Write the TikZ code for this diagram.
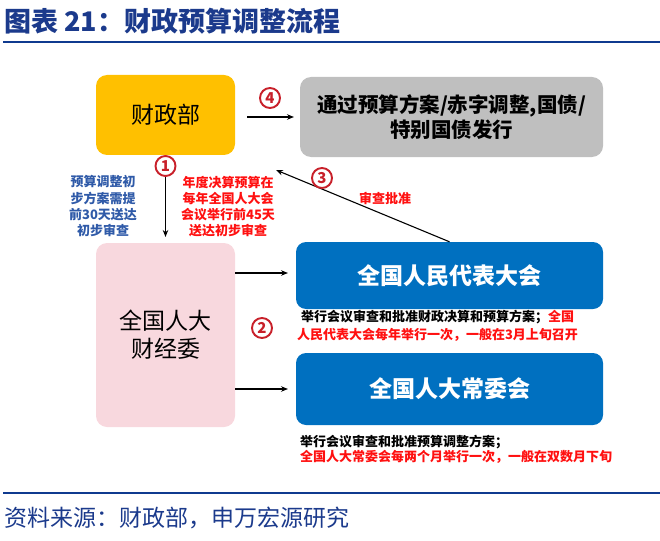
\documentclass[tikz,border=0pt]{standalone}
\usepackage{fontspec}
\setmainfont{Noto Sans CJK SC}
\usetikzlibrary{arrows.meta}
\definecolor{titleblue}{HTML}{1B3A8C}
\definecolor{lineblue}{HTML}{0F3A8F}
\definecolor{textblue}{HTML}{2F5AA8}
\definecolor{boxorange}{HTML}{FFC000}
\definecolor{boxgray}{HTML}{BFBFBF}
\definecolor{boxpink}{HTML}{F8D8DE}
\definecolor{boxblue}{HTML}{0070C0}
\definecolor{myred}{HTML}{FF1010}
\definecolor{circred}{HTML}{C8202A}
\begin{document}
\begin{tikzpicture}[x=1pt,y=-1pt,
  box/.style={rounded corners=11pt, inner sep=0pt, align=center},
  numcirc/.style={circle, draw=circred, line width=1.9pt, fill=white, minimum size=20pt, inner sep=0pt,
    text=circred, font=\fontsize{15}{15}\selectfont\bfseries},
  arr/.style={-{Stealth[length=7pt,width=5.5pt]}, line width=1.1pt, black},
  small/.style={font=\fontsize{13}{16}\selectfont\bfseries, align=center, inner sep=0pt}
]
\useasboundingbox (0,0) rectangle (660,540);
% title
\node[anchor=west, inner sep=0pt, text=titleblue, font=\fontsize{27}{27}\selectfont\bfseries] (title) at (4,21) {图表 21：财政预算调整流程};
\draw[lineblue, line width=2.5pt] (3,42) -- (660,42);
\draw[lineblue, line width=2.5pt] (3,493) -- (660,493);
\node[anchor=west, inner sep=0pt, text=titleblue, font=\fontsize{23}{23}\selectfont] (src) at (4,518) {资料来源：财政部，申万宏源研究};

% boxes
\node[box, fill=boxorange, minimum width=139, minimum height=80, font=\fontsize{23}{23}\selectfont] (czb) at (165.5,115) {财政部};
\node[box, fill=boxgray, minimum width=303, minimum height=80, font=\fontsize{20.5}{25}\selectfont\bfseries] (gray) at (451.5,117) {通过预算方案/赤字调整,国债/\\特别国债发行};
\node[box, fill=boxpink, minimum width=139, minimum height=184, font=\fontsize{23}{28}\selectfont] (pink) at (165.5,335) {全国人大\\财经委};
\node[box, rounded corners=10pt, fill=boxblue, text=white, minimum width=307, minimum height=67, font=\fontsize{23}{23}\selectfont\bfseries] (npc) at (449.5,275.5) {全国人民代表大会};
\node[box, rounded corners=10pt, fill=boxblue, text=white, minimum width=307, minimum height=72, font=\fontsize{23}{23}\selectfont\bfseries] (npcsc) at (449.5,389) {全国人大常委会};

% arrow 4
\coordinate (a4s) at (247,117);
\coordinate (a4e) at (294,117);
\draw[arr] (a4s) -- (a4e);
\node[numcirc] (n4) at (270,98) {4};

% arrow 1
\coordinate (a1s) at (165.5,156);
\coordinate (a1e) at (165.5,237);
\draw[arr] (a1s) -- (a1e);
\node[numcirc] (n1) at (165.5,166) {1};
\node[small, text=textblue] (t1) at (103,206) {预算调整初\\步方案需提\\前30天送达\\初步审查};
\node[small, text=myred] (t1r) at (228,206.5) {年度决算预算在\\每年全国人大会\\会议举行前45天\\送达初步审查};

% arrow 3
\coordinate (a3e) at (276,170);
\draw[arr] (npc.north) -- (a3e);
\node[numcirc] (n3) at (322,178) {3};
\node[small, text=myred] (t3) at (385,198) {审查批准};

% arrows 2
\coordinate (a2s) at (235,273);
\coordinate (a2e) at (288,273);
\coordinate (a2s2) at (235,389);
\coordinate (a2e2) at (288,389);
\draw[arr] (a2s) -- (a2e);
\draw[arr] (a2s2) -- (a2e2);
\node[numcirc] (n2) at (262,328) {2};

% notes
\node[small, font=\fontsize{13}{18}\selectfont\bfseries] (t2a) at (437.5,326) {举行会议审查和批准财政决算和预算方案；{\color{myred}全国}\\{\color{myred}人民代表大会每年举行一次，一般在3月上旬召开}};
\node[small, anchor=north west, align=left, font=\fontsize{13}{15}\selectfont\bfseries] (t2b) at (300,435) {举行会议审查和批准预算调整方案；\\{\color{myred}全国人大常委会每两个月举行一次，一般在双数月下旬}};
\end{tikzpicture}
\end{document}
